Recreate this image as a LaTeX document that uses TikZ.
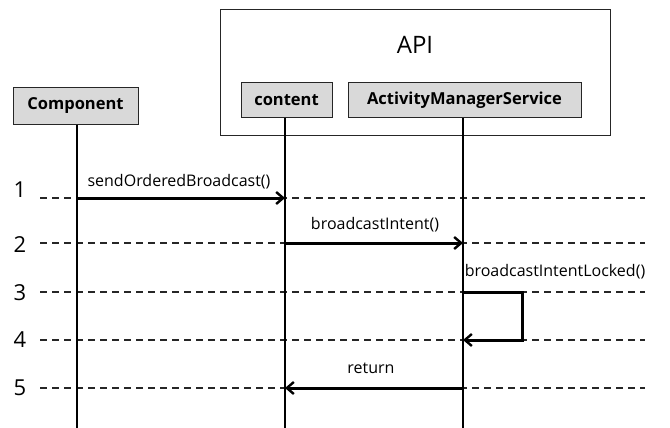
\documentclass[tikz,border=0pt]{standalone}
\usepackage{fontspec}
\setmainfont{Open Sans}
\usetikzlibrary{arrows.meta}
\begin{document}
\begin{tikzpicture}[x=1pt,y=-1pt,
  actor/.style={draw=black!85,line width=1pt,fill=black!15,font=\bfseries\fontsize{16.5}{18}\selectfont,inner sep=0pt},
  life/.style={line width=2.3pt},
  guide/.style={dash pattern=on 7pt off 5pt,line width=1.8pt,black!85},
  msg/.style={line width=3pt,-{Straight Barb[length=7pt,width=12pt,line width=2.4pt]}},
  lbl/.style={font=\fontsize{16}{18}\selectfont,inner sep=0pt},
  num/.style={font=\fontsize{22}{24}\selectfont,inner sep=0pt}]
\useasboundingbox (0,0) rectangle (670,428);
% API frame
\node[draw=black!85,line width=1pt,minimum width=390pt,minimum height=125pt,inner sep=0pt] (api) at (415,72.5) {};
\node[font=\fontsize{24}{26}\selectfont,inner sep=0pt] (apit) at (415,45) {API};
% actors
\node[actor,minimum width=125pt,minimum height=36pt] (comp) at (75.5,106) {Component};
\node[actor,minimum width=91pt,minimum height=35pt] (cont) at (286.5,100.5) {content};
\node[actor,minimum width=233pt,minimum height=35pt] (ams) at (464.5,100.5) {ActivityManagerService};
% guide lines and numbers
\foreach \i/\y/\ny in {1/198/190,2/243/245,3/292/293,4/340/340,5/388/388}{
  \node[num] (n\i) at (20,\ny) {\i};
  \coordinate (gl\i) at (40,\y);
  \coordinate (gr\i) at (645,\y);
  \draw[guide] (gl\i) -- (gr\i);
}
% lifelines
\coordinate (compb) at (77,428);
\coordinate (contb) at (285,428);
\coordinate (amsb) at (463,428);
\draw[life] (comp.south -| compb) -- (compb);
\draw[life] (cont.south -| contb) -- (contb);
\draw[life] (ams.south -| amsb) -- (amsb);
% messages
\coordinate (m1a) at (77,198); \coordinate (m1b) at (285,198);
\draw[msg] (m1a) -- (m1b);
\node[lbl] (l1) at (179,182) {sendOrderedBroadcast()};
\coordinate (m2a) at (285,243); \coordinate (m2b) at (463,243);
\draw[msg] (m2a) -- (m2b);
\node[lbl] (l2) at (375,225) {broadcastIntent()};
\coordinate (m3a) at (463,292); \coordinate (m3c) at (522,292); \coordinate (m3d) at (522,340); \coordinate (m3b) at (463,340);
\draw[msg,line join=miter] (m3a) -- (m3c) -- (m3d) -- (m3b);
\node[lbl] (l3) at (555,272) {broadcastIntentLocked()};
\coordinate (m5a) at (463,388); \coordinate (m5b) at (285,388);
\draw[msg] (m5a) -- (m5b);
\node[lbl] (l5) at (371,368) {return};
\end{tikzpicture}
\end{document}
